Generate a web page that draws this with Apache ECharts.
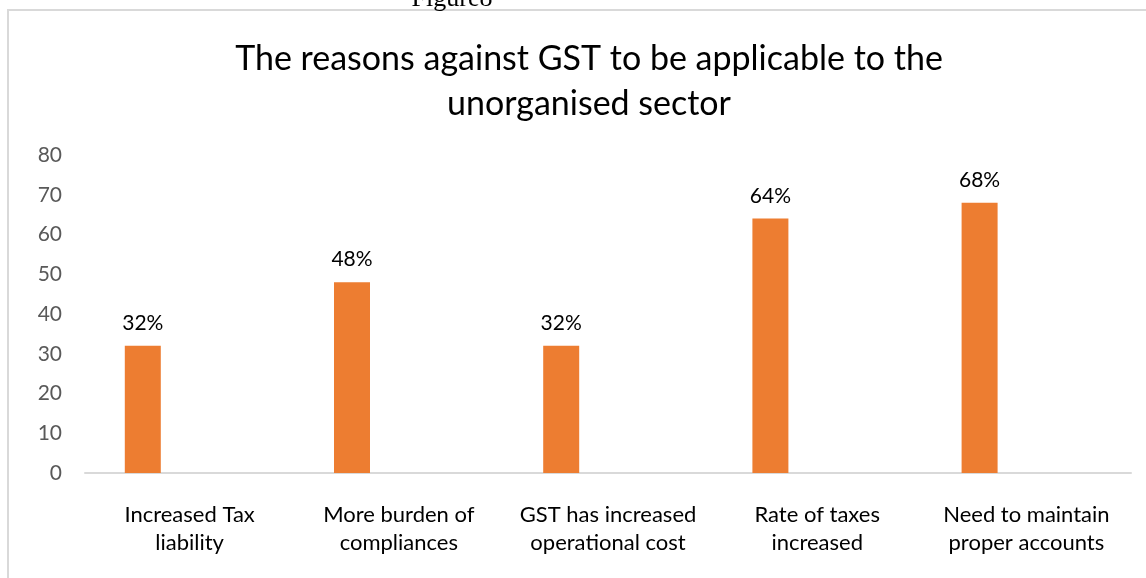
<!DOCTYPE html>
<html>
<head>
<meta charset="utf-8">
<script src="https://cdn.jsdelivr.net/npm/echarts@6/dist/echarts.min.js"></script>
<style>
  html, body { margin: 0; padding: 0; background: #fff; }
  #chart { width: 1146px; height: 578px; }
</style>
</head>
<body>
<div id="chart"></div>
<script>
// data
var categories = [
  'Increased Tax\nliability',
  'More burden of\ncompliances',
  'GST has increased\noperational cost',
  'Rate of taxes\nincreased',
  'Need to maintain\nproper accounts'
]
var values = [32, 48, 32, 64, 68]
var valueLabels = ['32%', '48%', '32%', '64%', '68%']
var yMin = 0
var yMax = 80
var yStep = 10

var myChart = echarts.init(document.getElementById('chart'))
var option = {
  backgroundColor: '#fff',
  animation: false,
  textStyle: { fontFamily: 'Lato' },
  title: {
    text: 'The reasons against GST to be applicable to the\nunorganised sector',
    left: 584,
    top: 32,
    textAlign: 'center',
    textStyle: {
      fontFamily: 'Lato',
      fontSize: 34,
      fontWeight: 'normal',
      color: '#000',
      lineHeight: 45
    }
  },
  graphic: [
    {
      // chart frame, runs off the page
      type: 'rect',
      shape: { x: 8, y: 10, width: 1300, height: 800 },
      style: { fill: 'none', stroke: '#d9d9d9', lineWidth: 2 },
      z: -1
    },
    {
      // caption cut at the top of the page
      type: 'text',
      x: 452,
      y: 12,
      style: {
        text: 'Figure8',
        font: '26px "Liberation Serif"',
        fill: '#000',
        textAlign: 'center',
        textVerticalAlign: 'bottom'
      }
    }
  ],
  grid: {
    left: 85,
    right: 15,
    top: 155,
    bottom: 105
  },
  xAxis: {
    type: 'category',
    data: categories,
    axisLine: { lineStyle: { color: '#d9d9d9', width: 2 } },
    axisTick: { show: false },
    axisLabel: {
      interval: 0,
      margin: 28,
      fontSize: 22,
      lineHeight: 28,
      color: '#000',
      fontFamily: 'Lato'
    }
  },
  yAxis: {
    type: 'value',
    min: yMin,
    max: yMax,
    interval: yStep,
    axisLine: { show: false },
    axisTick: { show: false },
    splitLine: { show: false },
    axisLabel: {
      margin: 23,
      fontSize: 21,
      color: '#595959',
      fontFamily: 'Lato'
    }
  },
  series: [
    {
      type: 'bar',
      data: values,
      barWidth: 36,
      barGap: '160%',
      itemStyle: { color: '#ed7d31' },
      label: {
        show: true,
        position: 'top',
        distance: 12,
        fontSize: 21,
        color: '#000',
        fontFamily: 'Lato',
        formatter: function (p) { return valueLabels[p.dataIndex] }
      }
    },
    {
      // empty second series, keeps the bars left of centre
      type: 'bar',
      data: [null, null, null, null, null],
      barWidth: 36
    }
  ]
}
myChart.setOption(option)
</script>
</body>
</html>
